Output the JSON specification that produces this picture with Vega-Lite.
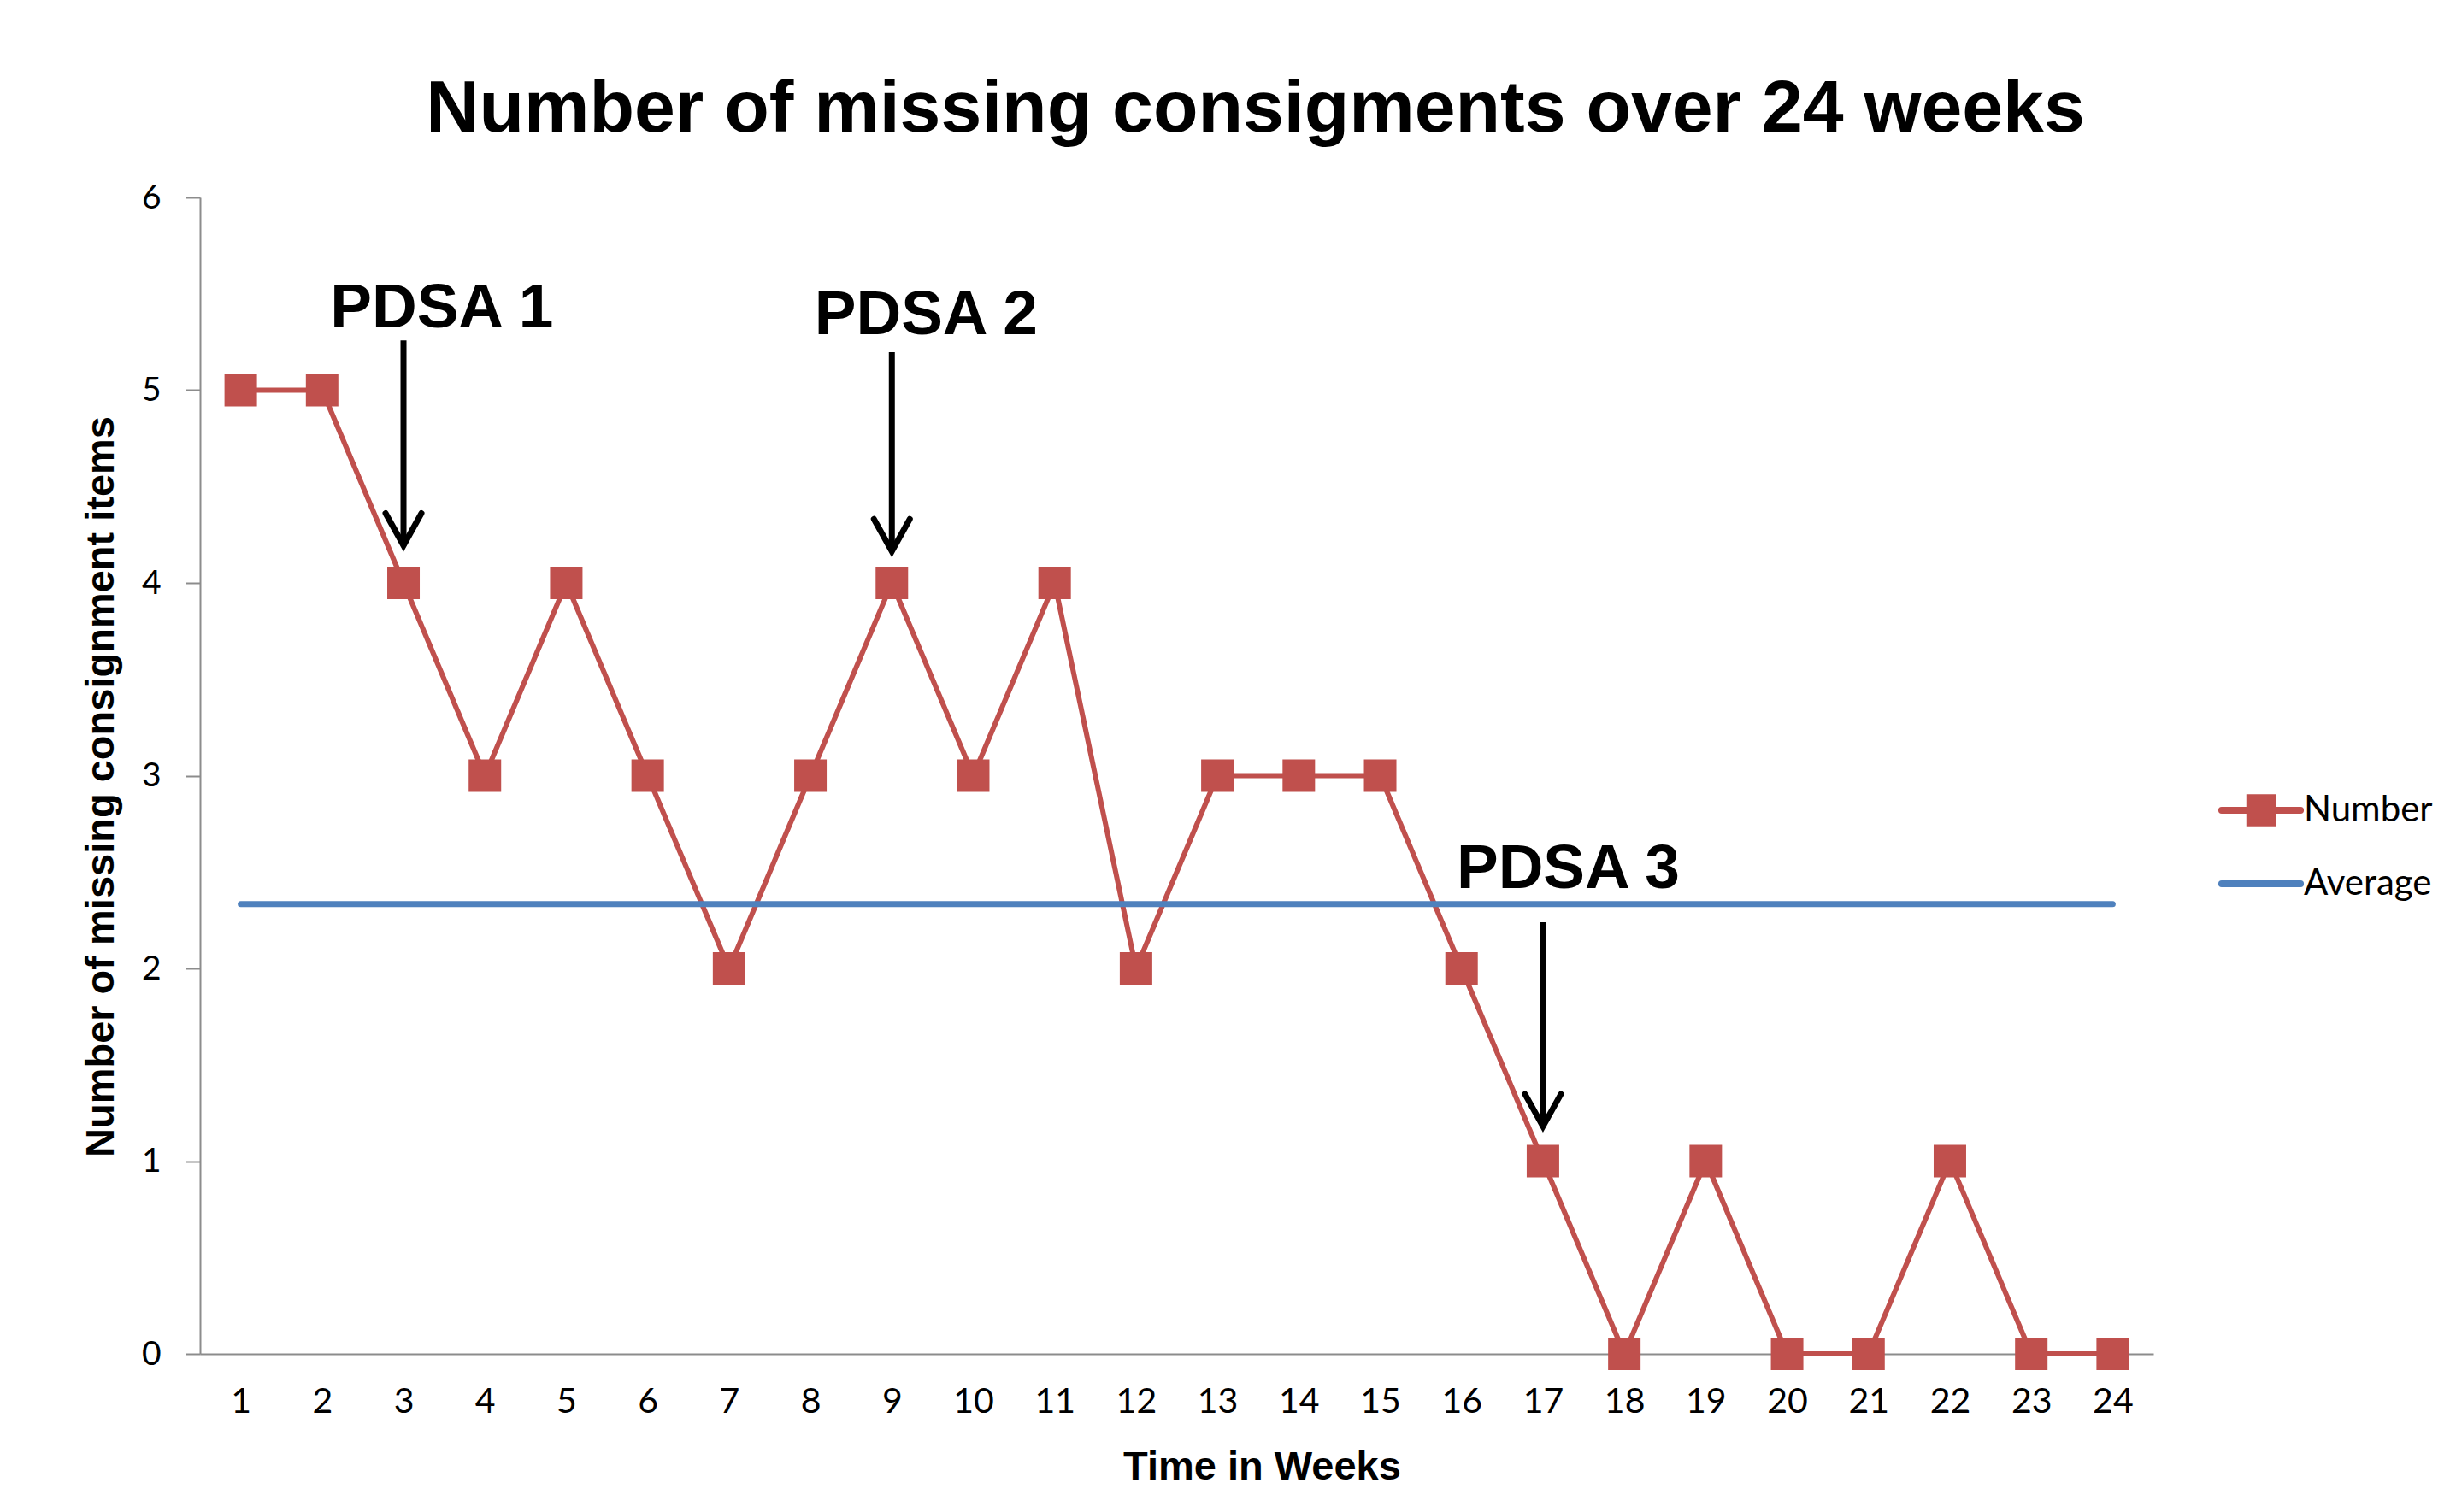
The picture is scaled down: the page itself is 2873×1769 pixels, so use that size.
{
  "$schema": "https://vega.github.io/schema/vega-lite/v6.json",
  "width": 2285,
  "height": 1353,
  "autosize": {"type": "none"},
  "padding": {"left": 234, "top": 231, "right": 354, "bottom": 185},
  "background": "white",
  "title": {
    "text": "Number of missing consigments over 24 weeks",
    "font": "Liberation Sans",
    "fontSize": 86,
    "fontWeight": "bold",
    "color": "black",
    "anchor": "middle",
    "baseline": "alphabetic",
    "dx": 92,
    "offset": -28
  },
  "datasets": {
    "number": [
      {"week": 1, "value": 5, "series": "Number"},
      {"week": 2, "value": 5, "series": "Number"},
      {"week": 3, "value": 4, "series": "Number"},
      {"week": 4, "value": 3, "series": "Number"},
      {"week": 5, "value": 4, "series": "Number"},
      {"week": 6, "value": 3, "series": "Number"},
      {"week": 7, "value": 2, "series": "Number"},
      {"week": 8, "value": 3, "series": "Number"},
      {"week": 9, "value": 4, "series": "Number"},
      {"week": 10, "value": 3, "series": "Number"},
      {"week": 11, "value": 4, "series": "Number"},
      {"week": 12, "value": 2, "series": "Number"},
      {"week": 13, "value": 3, "series": "Number"},
      {"week": 14, "value": 3, "series": "Number"},
      {"week": 15, "value": 3, "series": "Number"},
      {"week": 16, "value": 2, "series": "Number"},
      {"week": 17, "value": 1, "series": "Number"},
      {"week": 18, "value": 0, "series": "Number"},
      {"week": 19, "value": 1, "series": "Number"},
      {"week": 20, "value": 0, "series": "Number"},
      {"week": 21, "value": 0, "series": "Number"},
      {"week": 22, "value": 1, "series": "Number"},
      {"week": 23, "value": 0, "series": "Number"},
      {"week": 24, "value": 0, "series": "Number"}
    ],
    "average": [
      {"week": 1, "value": 2.3333, "series": "Average"},
      {"week": 24, "value": 2.3333, "series": "Average"}
    ],
    "labels": [
      {"label": "PDSA 1", "week": 3.47, "value": 5.325},
      {"label": "PDSA 2", "week": 9.42, "value": 5.29},
      {"label": "PDSA 3", "week": 17.31, "value": 2.417}
    ],
    "arrows": [
      {"week": 3, "top": 5.258, "tip": 4.194},
      {"week": 9, "top": 5.197, "tip": 4.164},
      {"week": 17, "top": 2.239, "tip": 1.18}
    ]
  },
  "config": {
    "view": {"stroke": null},
    "axis": {
      "grid": false,
      "domainColor": "#8c8c8c",
      "domainWidth": 2,
      "tickColor": "#8c8c8c",
      "tickWidth": 2,
      "labelColor": "black",
      "labelFont": "Lato",
      "titleFont": "Liberation Sans",
      "titleFontWeight": "bold",
      "titleFontSize": 47,
      "titleColor": "black"
    }
  },
  "encoding": {
    "x": {
      "field": "week",
      "type": "quantitative",
      "scale": {"domain": [0.5, 24.5], "nice": false, "zero": false},
      "axis": {
        "title": "Time in Weeks",
        "values": [1, 2, 3, 4, 5, 6, 7, 8, 9, 10, 11, 12, 13, 14, 15, 16, 17, 18, 19, 20, 21, 22, 23, 24],
        "ticks": false,
        "tickSize": 0,
        "labelFontSize": 41,
        "labelPadding": 36,
        "labelBaseline": "top",
        "titleX": 1242,
        "titleY": 146,
        "titleAlign": "center",
        "titleBaseline": "alphabetic"
      }
    },
    "y": {
      "field": "value",
      "type": "quantitative",
      "scale": {"domain": [0, 6], "nice": false, "zero": true},
      "axis": {
        "title": "Number of missing consignment items",
        "values": [0, 1, 2, 3, 4, 5, 6],
        "tickSize": 17,
        "labelFontSize": 39,
        "labelPadding": 29,
        "titleX": -102,
        "titleY": 689,
        "titleAngle": -90,
        "titleAlign": "center",
        "titleBaseline": "alphabetic"
      }
    }
  },
  "layer": [
    {
      "data": {"name": "number"},
      "mark": {"type": "line", "strokeWidth": 6, "strokeJoin": "round"},
      "encoding": {
        "color": {
          "field": "series",
          "type": "nominal",
          "scale": {"domain": ["Number", "Average"], "range": ["#C0504D", "#4F81BD"]},
          "legend": {
            "title": null,
            "orient": "none",
            "legendX": 2358,
            "legendY": 664,
            "padding": 0,
            "labelFont": "Lato",
            "labelFontSize": 42,
            "labelColor": "black",
            "labelOffset": -3,
            "rowPadding": 2,
            "symbolSize": 9604,
            "symbolStrokeWidth": 8,
            "encode": {
              "symbols": {
                "update": {
                  "shape": {"signal": "datum.value === 'Number' ? 'M -0.94 0 H 0.94 M -0.27 -0.3 H 0.27 V 0.3 H -0.27 Z' : 'M -0.94 0 H 0.94'"},
                  "fill": {"signal": "datum.value === 'Number' ? '#C0504D' : '#4F81BD'"},
                  "stroke": {"signal": "datum.value === 'Number' ? '#C0504D' : '#4F81BD'"},
                  "strokeWidth": {"value": 8},
                  "strokeCap": {"value": "round"},
                  "opacity": {"value": 1},
                  "fillOpacity": {"value": 1},
                  "strokeOpacity": {"value": 1}
                }
              }
            }
          }
        }
      }
    },
    {
      "data": {"name": "number"},
      "mark": {"type": "point", "shape": "square", "filled": true, "size": 1444, "opacity": 1},
      "encoding": {
        "color": {"field": "series", "type": "nominal"}
      }
    },
    {
      "data": {"name": "average"},
      "mark": {"type": "line", "strokeWidth": 7, "strokeCap": "round"},
      "encoding": {
        "color": {"field": "series", "type": "nominal"}
      }
    },
    {
      "data": {"name": "arrows"},
      "mark": {"type": "rule", "strokeWidth": 7, "color": "black"},
      "encoding": {
        "y": {"field": "top", "type": "quantitative"},
        "y2": {"field": "tip"}
      }
    },
    {
      "data": {"name": "arrows"},
      "mark": {
        "type": "point",
        "shape": "M -1 -1.8 L 0 0 L 1 -1.8",
        "filled": false,
        "stroke": "black",
        "strokeWidth": 7,
        "strokeCap": "round",
        "strokeJoin": "miter",
        "size": 1764,
        "opacity": 1
      },
      "encoding": {
        "y": {"field": "tip", "type": "quantitative"}
      }
    },
    {
      "data": {"name": "labels"},
      "mark": {
        "type": "text",
        "font": "Liberation Sans",
        "fontSize": 73,
        "fontWeight": "bold",
        "color": "black",
        "align": "center",
        "baseline": "alphabetic"
      },
      "encoding": {
        "text": {"field": "label"}
      }
    }
  ]
}
